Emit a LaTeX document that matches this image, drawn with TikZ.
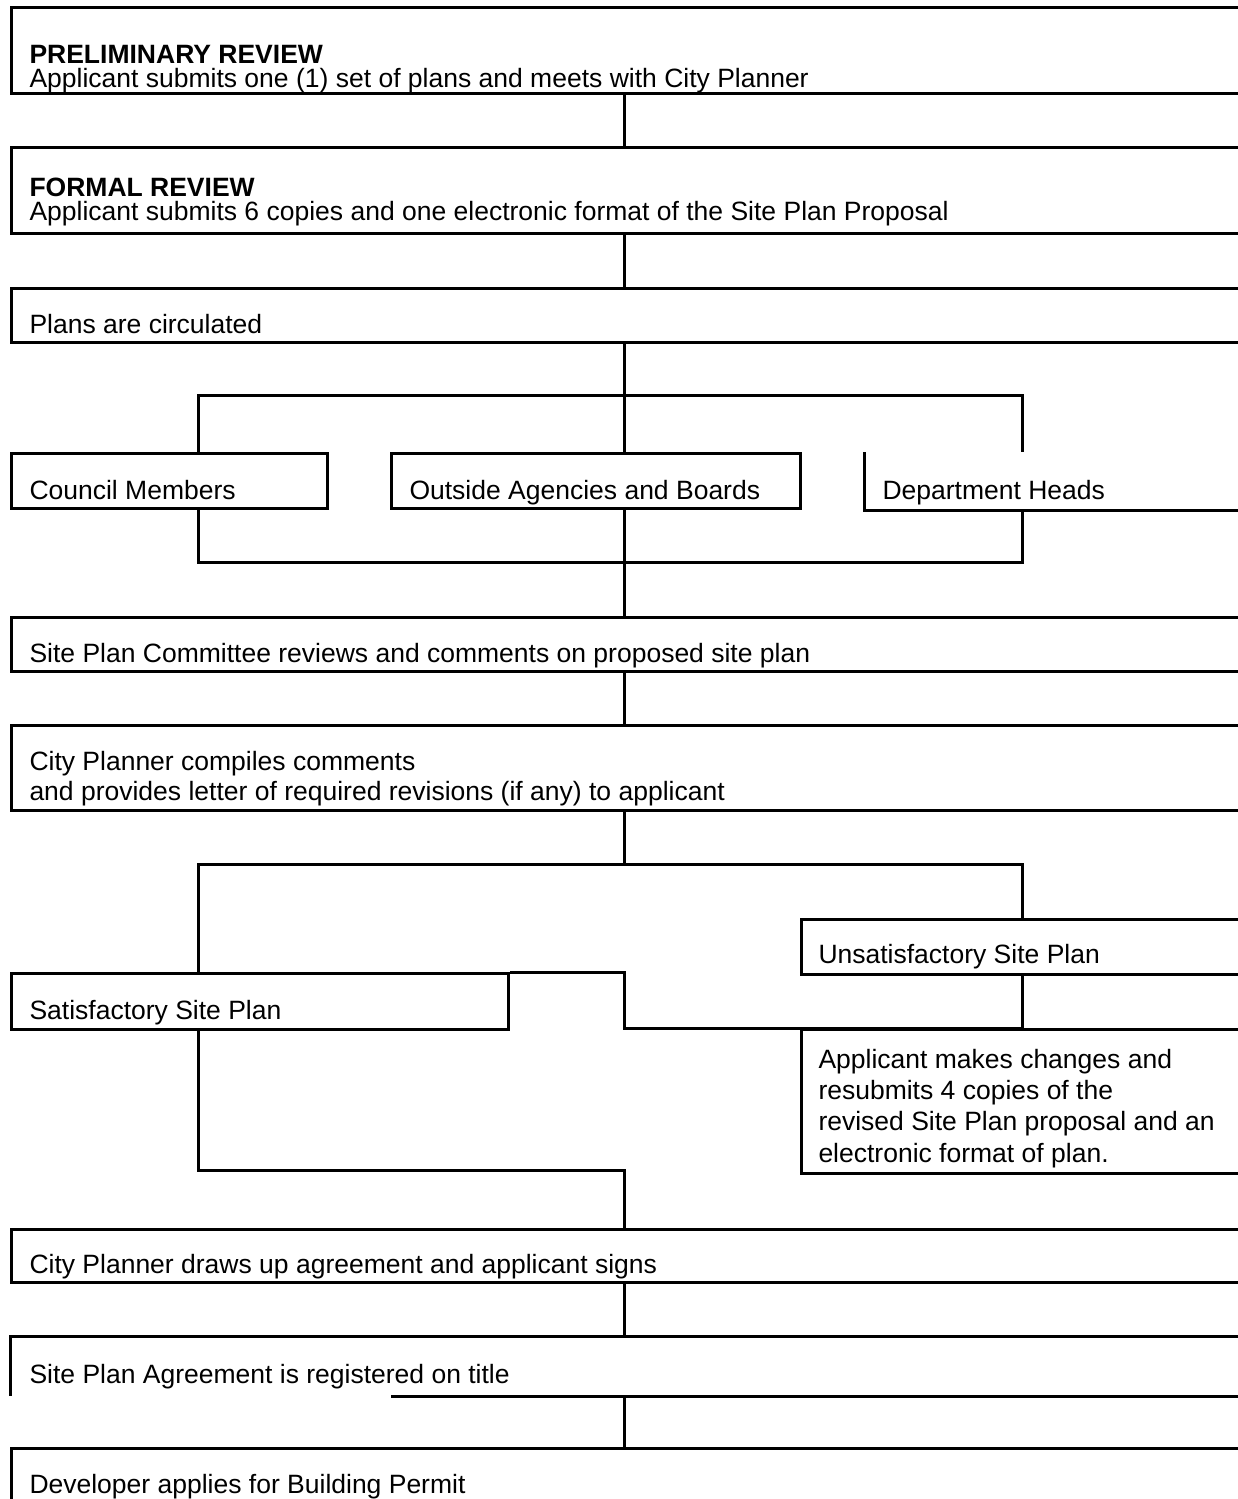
\documentclass[tikz,border=0pt]{standalone}
\usepackage{fontspec}
\setmainfont{Liberation Sans}
\usepackage{tikz}

\begin{document}
\begin{tikzpicture}[x=1pt,y=1pt,yscale=-1,xscale=1,line width=3pt,
  stage/.style={draw,rectangle,anchor=north west,inner sep=0pt,minimum width=1300pt},
  bare/.style={rectangle,anchor=north west,inner sep=0pt,minimum width=1300pt},
  txt/.style={anchor=base west,inner sep=0pt,align=left,font=\fontsize{26.5}{24}\selectfont}]
\useasboundingbox (0,0) rectangle (1238,1499);
\clip (0,0) rectangle (1238,1499);

%branch lines
\coordinate (mid) at (624,0);
\coordinate (lft) at (198,0);
\coordinate (rgt) at (1022,0);
\coordinate (split1) at (624,395);
\coordinate (join1) at (624,562);
\coordinate (split2) at (624,864);
\coordinate (join2) at (624,1170);

%Shape: Rectangle [prelim]
\node[stage,minimum height=86pt] (prelim) at (10,6) {};
%Shape: Rectangle [formal]
\node[stage,minimum height=86pt] (formal) at (10,146) {};
%Shape: Rectangle [circ]
\node[stage,minimum height=54pt] (circ) at (10,287) {};
%Shape: Rectangle [council]
\node[stage,minimum width=316pt,minimum height=55pt] (council) at (10,452) {};
%Shape: Rectangle [outside]
\node[stage,minimum width=409pt,minimum height=55pt] (outside) at (390,452) {};
%Shape: open box [dept]
\node[bare,minimum height=55pt] (dept) at (864,452) {};
\draw (dept.north west) -- (dept.south west) -- (dept.south east);
%Shape: Rectangle [spc]
\node[stage,minimum height=54pt] (spc) at (10,616) {};
%Shape: Rectangle [compile]
\node[stage,minimum height=85pt] (compile) at (10,724) {};
%Shape: Rectangle [unsat]
\node[stage,minimum height=55pt] (unsat) at (800,918) {};
%Shape: Rectangle [sat]
\node[stage,minimum width=497pt,minimum height=56pt] (sat) at (10,972) {};
%Shape: Rectangle [change]
\node[stage,minimum height=144pt] (change) at (800,1028) {};
%Shape: Rectangle [draws]
\node[stage,minimum height=53pt] (draws) at (10,1228) {};
%Shape: open box [regist]
\node[bare,minimum height=57pt] (regist) at (10,1336) {};
\draw (regist.north east) -- (regist.north west) -- (regist.south west);
\draw (regist.south west) ++(381,0) -- (regist.south east);
%Shape: Rectangle [permit]
\node[stage,minimum height=54pt] (permit) at (10,1447) {};

%Shape: Lines
\draw (mid |- prelim.south) -- (mid |- formal.north);
\draw (mid |- formal.south) -- (mid |- circ.north);
\draw (mid |- circ.south) -- (mid |- outside.north);
\draw (lft |- council.north) -- (lft |- split1) -- (rgt |- split1) -- (rgt |- dept.north);
\draw (lft |- council.south) -- (lft |- join1) -- (rgt |- join1) -- (rgt |- dept.south);
\draw (mid |- outside.south) -- (mid |- spc.north);
\draw (mid |- spc.south) -- (mid |- compile.north);
\draw (mid |- compile.south) -- (split2);
\draw (lft |- sat.north) -- (lft |- split2) -- (rgt |- split2) -- (rgt |- unsat.north);
\draw (rgt |- unsat.south) -- (rgt |- change.north) -- (mid |- change.north) -- (mid |- sat.north) -- (sat.north east);
\draw (lft |- sat.south) -- (lft |- join2) -- (join2) -- (mid |- draws.north);
\draw (mid |- draws.south) -- (mid |- regist.north);
\draw (mid |- regist.south) -- (mid |- permit.north);

% Text Node
\node[txt] (prelim-t) at (28,87) {\textbf{PRELIMINARY REVIEW}\\Applicant submits one (1) set of plans and meets with City Planner};
% Text Node
\node[txt] (formal-t) at (28,220) {\textbf{FORMAL REVIEW}\\Applicant submits 6 copies and one electronic format of the Site Plan Proposal};
% Text Node
\node[txt] (circ-t) at (28,333) {Plans are circulated};
% Text Node
\node[txt] (council-t) at (28,499) {Council Members};
% Text Node
\node[txt] (outside-t) at (408,499) {Outside Agencies and Boards};
% Text Node
\node[txt] (dept-t) at (881,499) {Department Heads};
% Text Node
\node[txt] (spc-t) at (28,662) {Site Plan Committee reviews and comments on proposed site plan};
% Text Node
\node[txt] (compile-t) at (28,800) {City Planner compiles comments\\[4pt]and provides letter of required revisions (if any) to applicant};
% Text Node
\node[txt] (unsat-t) at (817,963) {Unsatisfactory Site Plan};
% Text Node
\node[txt] (sat-t) at (28,1019) {Satisfactory Site Plan};
% Text Node
\node[txt] (change-t) at (817,1162) {Applicant makes changes and\\[5.5pt]resubmits 4 copies of the\\[5.5pt]revised Site Plan proposal and an\\[5.5pt]electronic format of plan.};
% Text Node
\node[txt] (draws-t) at (28,1273) {City Planner draws up agreement and applicant signs};
% Text Node
\node[txt] (regist-t) at (28,1383) {Site Plan Agreement is registered on title};
% Text Node
\node[txt] (permit-t) at (28,1493) {Developer applies for Building Permit};

\end{tikzpicture}
\end{document}
